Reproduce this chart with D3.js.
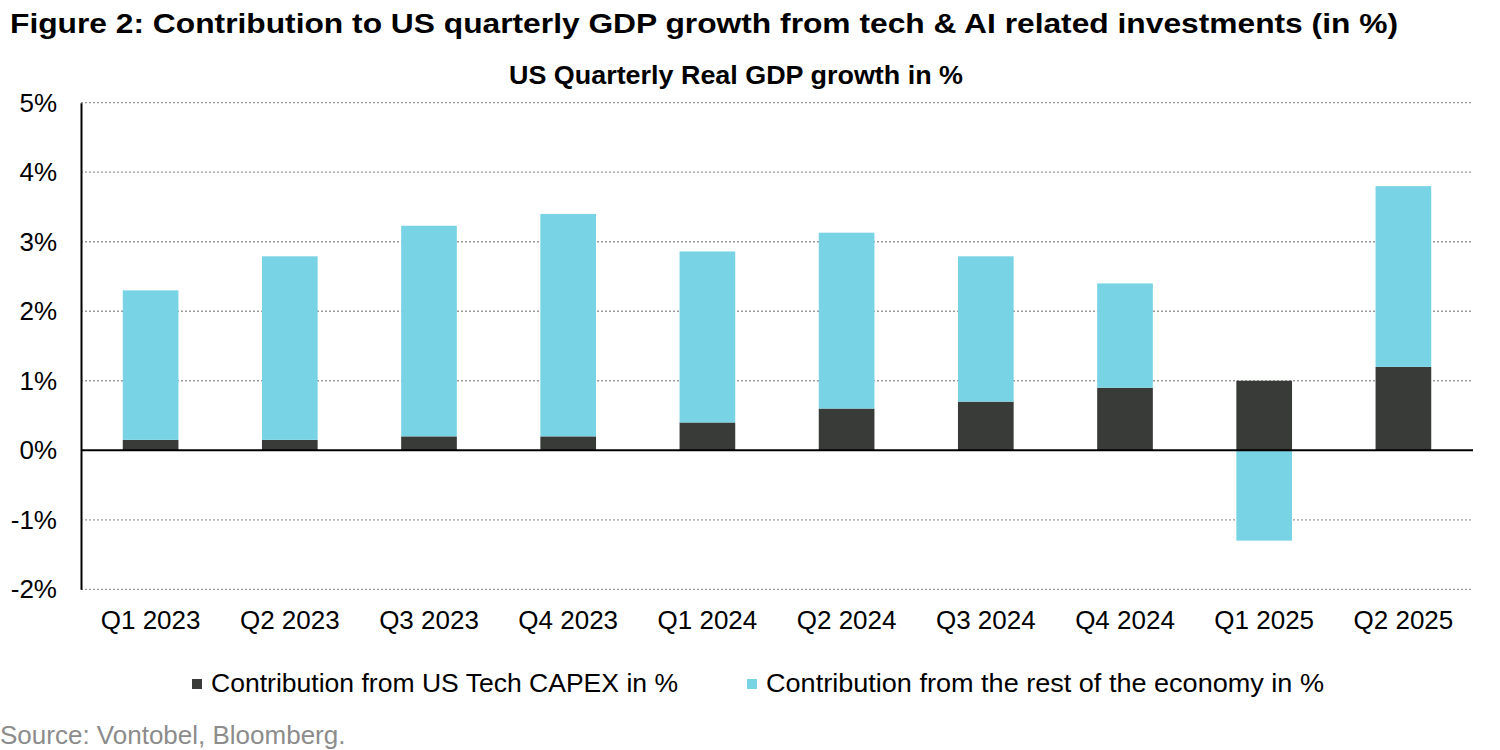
<!DOCTYPE html>
<html>
<head>
<meta charset="utf-8">
<script src="https://cdn.jsdelivr.net/npm/d3@7"></script>
<style>
body { margin:0; background:#fff; }
text { font-family: "Liberation Sans", Arial, sans-serif; }
</style>
</head>
<body>
<div id="my_viz"></div>
<script>
// data
const quarters = ["Q1 2023","Q2 2023","Q3 2023","Q4 2023","Q1 2024","Q2 2024","Q3 2024","Q4 2024","Q1 2025","Q2 2025"]
const techCapex = [0.15, 0.15, 0.2, 0.2, 0.4, 0.6, 0.7, 0.9, 1.0, 1.2]
const restOfEconomy = [2.15, 2.64, 3.03, 3.2, 2.46, 2.53, 2.09, 1.5, -1.3, 2.6]
const yTicks = [-2, -1, 0, 1, 2, 3, 4, 5]
const seriesNames = ["Contribution from US Tech CAPEX in %", "Contribution from the rest of the economy in %"]

const width = 1500
const height = 750
const plot = {left:81, right:1473, top:102.7, bottom:589.3}
const colors = ["#393b39", "#78d3e5"]

var svg = d3.select("#my_viz")
.append("svg")
.attr("width", width)
.attr("height", height)

// titles
svg.append("text")
.attr("x", 10)
.attr("y", 33)
.attr("textLength", 1388)
.attr("lengthAdjust", "spacingAndGlyphs")
.style("font-size", "28px")
.style("font-weight", "bold")
.text("Figure 2: Contribution to US quarterly GDP growth from tech & AI related investments (in %)")

svg.append("text")
.attr("x", 736)
.attr("y", 84)
.attr("text-anchor", "middle")
.attr("textLength", 454)
.attr("lengthAdjust", "spacingAndGlyphs")
.style("font-size", "25px")
.style("font-weight", "bold")
.text("US Quarterly Real GDP growth in %")

var table = quarters.map((q, i) => ({quarter:q, tech:techCapex[i], rest:restOfEconomy[i]}))

var xScale = d3.scaleBand()
.domain(quarters)
.range([plot.left, plot.right])
.paddingInner(0.6)
.paddingOuter(0.3)

var yScale = d3.scaleLinear()
.domain([-2, 5])
.range([plot.bottom, plot.top])

// gridlines (dotted), except zero
svg.append("g")
.selectAll("line")
.data(yTicks.filter(d => d !== 0))
.enter()
.append("line")
.attr("x1", plot.left)
.attr("x2", plot.right)
.attr("y1", d => yScale(d))
.attr("y2", d => yScale(d))
.attr("stroke", "#9a9a9a")
.attr("stroke-width", 1.3)
.attr("stroke-dasharray", "2,2")

// y axis labels
var yAxis = svg.append("g")
.attr("transform", "translate(" + plot.left + ",0)")
.call(d3.axisLeft(yScale).tickValues(yTicks).tickFormat(d => d + "%").tickSize(0).tickPadding(24))
yAxis.select(".domain").attr("stroke", "#000").attr("stroke-width", 2)
yAxis.selectAll("text")
.style("font-family", "Liberation Sans, Arial, sans-serif")
.style("font-size", "26px")
.attr("fill", "#000")

// stacked bars
var stackedData = d3.stack()
.keys(["tech", "rest"])
.offset(d3.stackOffsetDiverging)
(table)

svg.append("g")
.selectAll("g")
.data(stackedData)
.enter()
.append("g")
.attr("fill", (d, i) => colors[i])
.selectAll("rect")
.data(d => d)
.enter()
.append("rect")
.attr("x", d => xScale(d.data.quarter))
.attr("width", xScale.bandwidth())
.attr("y", d => yScale(d[1]))
.attr("height", d => yScale(d[0]) - yScale(d[1]))

// zero line
svg.append("line")
.attr("x1", plot.left)
.attr("x2", plot.right)
.attr("y1", yScale(0))
.attr("y2", yScale(0))
.attr("stroke", "#000")
.attr("stroke-width", 2)

// x axis labels
var xAxis = svg.append("g")
.attr("transform", "translate(0," + plot.bottom + ")")
.call(d3.axisBottom(xScale).tickSize(0).tickPadding(21))
xAxis.select(".domain").remove()
xAxis.selectAll("text")
.style("font-family", "Liberation Sans, Arial, sans-serif")
.style("font-size", "26px")
.attr("fill", "#000")

// legend
const legendX = [192, 747]
const legendLen = [467, 558]
var legend = svg.selectAll(".legend")
.data(seriesNames)
.enter()
.append("g")
.attr("class", "legend")
legend.append("rect")
.attr("x", (d, i) => legendX[i])
.attr("y", 679)
.attr("width", 10)
.attr("height", 10)
.attr("fill", (d, i) => colors[i])
legend.append("text")
.attr("x", (d, i) => legendX[i] + 19)
.attr("y", 692)
.attr("textLength", (d, i) => legendLen[i])
.attr("lengthAdjust", "spacingAndGlyphs")
.style("font-size", "26px")
.text(d => d)

// source
svg.append("text")
.attr("x", 0)
.attr("y", 744)
.attr("fill", "#8c8c8c")
.style("font-size", "26px")
.text("Source: Vontobel, Bloomberg.")
</script>
</body>
</html>
